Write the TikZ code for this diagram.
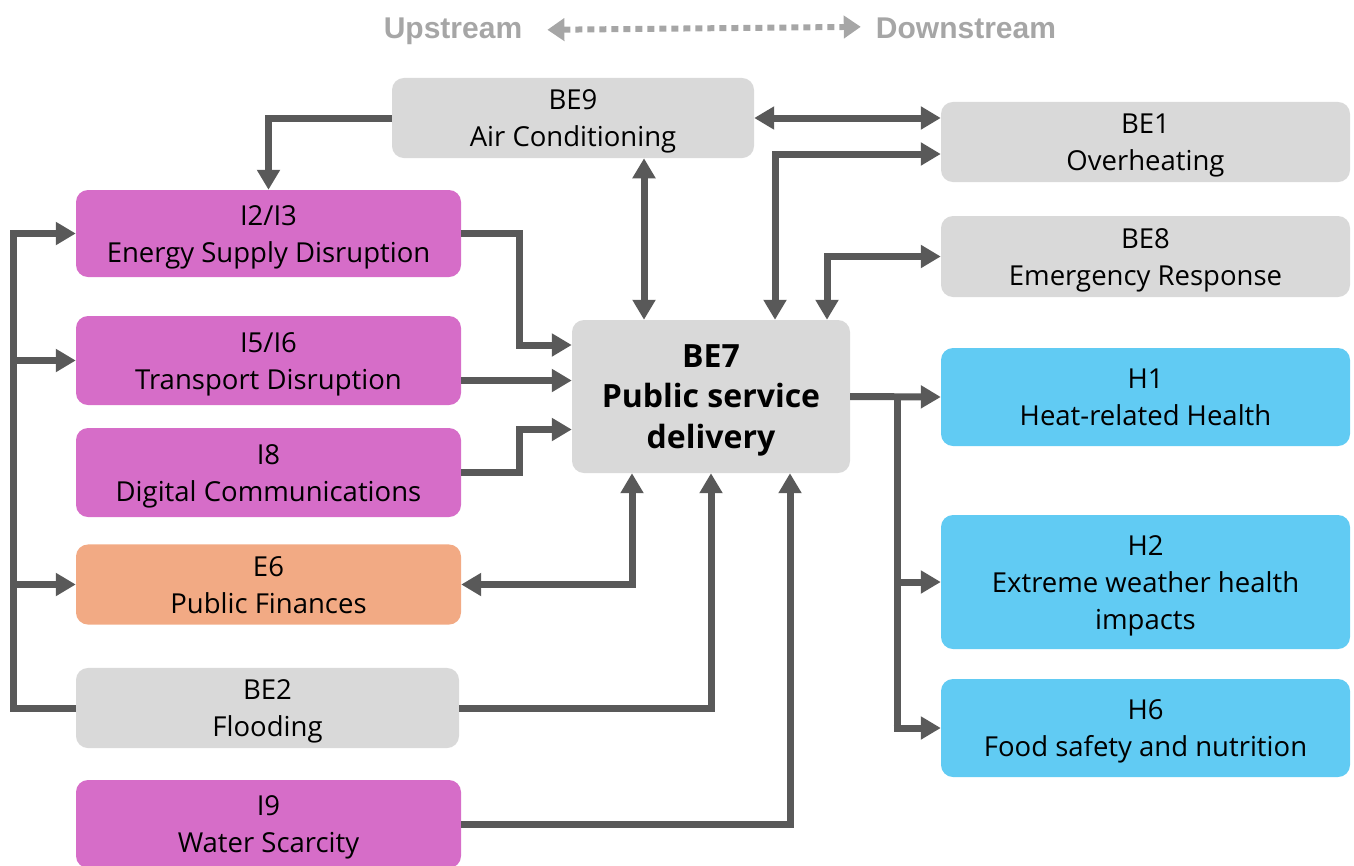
\documentclass[tikz,border=0pt]{standalone}
\usepackage{fontspec}
\setmainfont{Open Sans}
\newfontfamily\legendfont{Liberation Sans}
\usetikzlibrary{arrows.meta,calc}
\definecolor{boxgrey}{HTML}{D9D9D9}
\definecolor{boxmag}{HTML}{D66DC8}
\definecolor{boxorange}{HTML}{F2AA84}
\definecolor{boxblue}{HTML}{61CBF3}
\definecolor{linkgrey}{HTML}{595959}
\definecolor{legendgrey}{HTML}{A6A6A6}
% stacked box labels; the taller first row sets the text a little lower in its box
\newcommand\lbl[1]{\begin{tabular}{@{}c@{}}\rule{0pt}{32pt}#1\end{tabular}}
\newcommand\hublbl[1]{\begin{tabular}{@{}c@{}}\rule{0pt}{35pt}#1\end{tabular}}
\tikzset{
  box/.style={rounded corners=12pt, inner sep=0pt,
    font=\fontsize{27.5}{37}\selectfont, text=black},
  gbox/.style={box, fill=boxgrey},
  mbox/.style={box, fill=boxmag},
  obox/.style={box, fill=boxorange},
  bbox/.style={box, fill=boxblue},
  hubbox/.style={gbox, font=\bfseries\fontsize{32}{40.5}\selectfont},
  link/.style={draw=linkgrey, line width=7pt, line join=miter,
    -{Triangle[length=20pt,width=22pt]}},
  bilink/.style={link, {Triangle[length=20pt,width=22pt]}-{Triangle[length=20pt,width=22pt]}},
  plain/.style={draw=linkgrey, line width=7pt, line join=miter},
  legendtext/.style={inner sep=0pt, text=legendgrey,
    font=\legendfont\bfseries\fontsize{30}{34}\selectfont},
}
\begin{document}
\begin{tikzpicture}[x=1pt,y=1pt]
\useasboundingbox (0,0) rectangle (1354,-865);
\clip (0,0) rectangle (1354,-865);

% legend
\node[legendtext, anchor=base] (up) at (453,-38) {Upstream};
\node[legendtext, anchor=base] (down) at (966,-38) {Downstream};
\draw[draw=legendgrey, line width=6pt, dash pattern=on 7pt off 5pt,
  {Triangle[length=17pt,width=22pt,fill=legendgrey]}-{Triangle[length=17pt,width=22pt,fill=legendgrey]}]
  ([xshift=25pt,yshift=1pt]up.east) -- ([xshift=-15pt,yshift=1pt]down.west);

% boxes
\node[gbox, minimum width=362pt, minimum height=80pt] (be9) at (573,-118) {\lbl{BE9\\Air Conditioning}};
\node[gbox, minimum width=409pt, minimum height=80pt] (be1) at (1145.5,-142) {\lbl{BE1\\Overheating}};
\node[gbox, minimum width=409pt, minimum height=81pt] (be8) at (1145.5,-256.5) {\lbl{BE8\\Emergency Response}};
\node[mbox, minimum width=385pt, minimum height=87pt] (i23) at (268.5,-233.5) {\lbl{I2/I3\\Energy Supply Disruption}};
\node[mbox, minimum width=385pt, minimum height=89pt] (i56) at (268.5,-360.5) {\lbl{I5/I6\\Transport Disruption}};
\node[mbox, minimum width=385pt, minimum height=89pt] (i8) at (268.5,-472.5) {\lbl{I8\\Digital Communications}};
\node[obox, minimum width=385pt, minimum height=79pt] (e6) at (268.5,-584.5) {\lbl{E6\\Public Finances}};
\node[gbox, minimum width=383pt, minimum height=80pt] (be2) at (267.5,-708) {\lbl{BE2\\Flooding}};
\node[mbox, minimum width=385pt, minimum height=88pt] (i9) at (268.5,-824) {\lbl{I9\\Water Scarcity}};
\node[hubbox, minimum width=278pt, minimum height=153pt] (be7) at (711,-396.5) {\hublbl{BE7\\Public service\\delivery}};
\node[bbox, minimum width=409pt, minimum height=98pt] (h1) at (1145.5,-397) {\lbl{H1\\Heat-related Health}};
\node[bbox, minimum width=409pt, minimum height=134pt] (h2) at (1145.5,-582) {\lbl{H2\\Extreme weather health\\impacts}};
\node[bbox, minimum width=409pt, minimum height=98pt] (h6) at (1145.5,-728) {\lbl{H6\\Food safety and nutrition}};

% links around the top
\draw[link] (be9.west) -| (i23.north);
\draw[bilink] (be9.east) -- (be9.east -| be1.west);
\draw[bilink] ([xshift=-67pt]be7.north |- be9.south) -- ([xshift=-67pt]be7.north);
\draw[bilink] ([yshift=-12pt]be1.west) -| ([xshift=64pt]be7.north);
\draw[bilink] (be8.west) -| ([xshift=116pt]be7.north);

% links into BE7 from the left
\draw[link] (i23.east) -- ++(58,0) |- ([yshift=51.5pt]be7.west);
\draw[link] ([yshift=-20pt]i56.east) -- ([yshift=-20pt]i56.east -| be7.west);
\draw[link] (i8.east) -- ++(58,0) |- ([yshift=-33pt]be7.west);
\draw[bilink] (e6.east) -| ([xshift=-79pt]be7.south);
\draw[link] (be2.east) -| (be7.south);
\draw[link] (i9.east) -| ([xshift=79pt]be7.south);

% flooding feeds the infrastructure boxes
\coordinate (bus) at ($(be2.west)+(-62,0)$);
\draw[plain] (be2.west) -- (bus) -- (bus |- i23.west);
\draw[link] ([xshift=-3.5pt]bus |- i23.west) -- (i23.west);
\draw[link] (bus |- i56.west) -- (i56.west);
\draw[link] (bus |- e6.west) -- (e6.west);

% links out of BE7 to health
\coordinate (hub) at ($(be7.east)+(47,0)$);
\draw[link] (be7.east) -- (h1.west);
\draw[plain] (hub) -- (hub |- h6.west);
\draw[link] (hub |- h2.west) -- (h2.west);
\draw[link] ([xshift=-3.5pt]hub |- h6.west) -- (h6.west);
\end{tikzpicture}
\end{document}
